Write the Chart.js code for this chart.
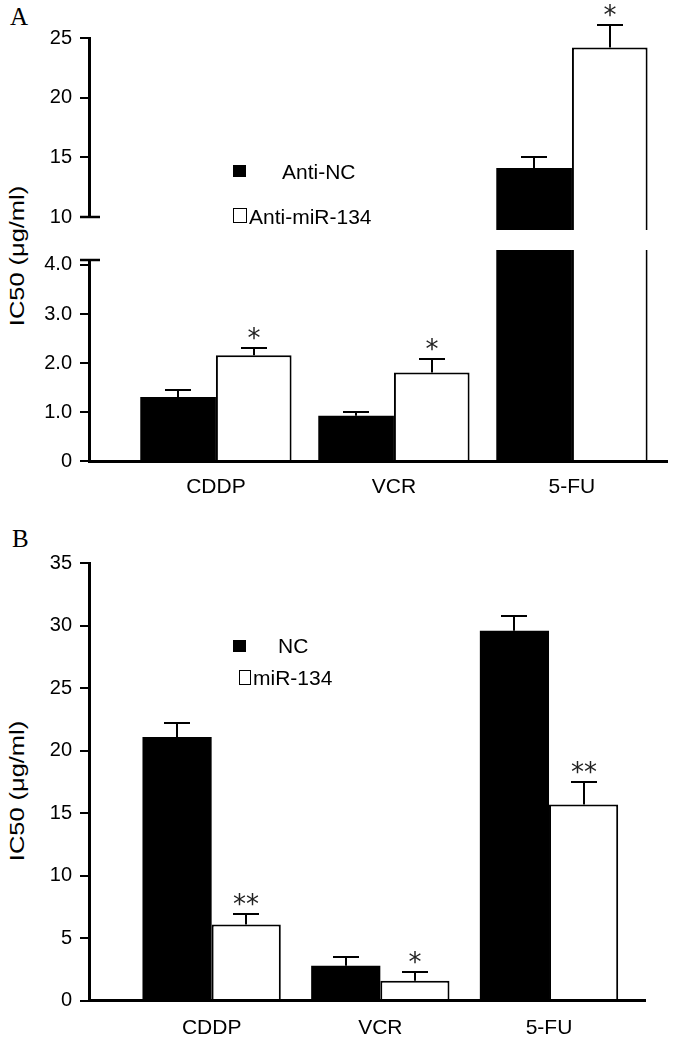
<!DOCTYPE html>
<html>
<head>
<meta charset="utf-8">
<script src="https://cdn.jsdelivr.net/npm/chart.js"></script>
<style>
  body { margin: 0; background: #fff; }
  #wrap { position: relative; width: 676px; height: 1043px; overflow: hidden;
          font-family: 'Liberation Sans', Arial, sans-serif; color: #000; }
  canvas { position: absolute; left: 0; }
  .panel { position: absolute; font-family: 'Liberation Serif', 'Times New Roman', serif;
           font-size: 25px; line-height: 1; }
  .ytitle { position: absolute; font-size: 20px; line-height: 1; white-space: nowrap;
            transform: translate(-50%, -50%) rotate(-90deg) scaleX(1.27); }
  .key { position: absolute; font-size: 21px; line-height: 1; white-space: nowrap; }
  .sw { position: absolute; box-sizing: border-box; }
</style>
</head>
<body>
<div id="wrap">
  <div class="panel" style="left:10px;top:4px">A</div>
  <div class="panel" style="left:12px;top:526px">B</div>
  <div class="ytitle" style="left:17px;top:256px">IC50 (μg/ml)</div>
  <div class="ytitle" style="left:17px;top:791px">IC50 (μg/ml)</div>

  <canvas id="chartA1" width="676" height="240" style="top:0px"></canvas>
  <canvas id="chartA2" width="676" height="290" style="top:240px"></canvas>
  <canvas id="chartB" width="676" height="503" style="top:540px"></canvas>

  <!-- legends -->
  <div class="sw" style="left:233px;top:165px;width:13px;height:12px;background:#000"></div>
  <div class="key" style="left:282px;top:161px">Anti-NC</div>
  <div class="sw" style="left:233px;top:208px;width:14px;height:15px;border:1.5px solid #000"></div>
  <div class="key" style="left:249px;top:206px">Anti-miR-134</div>

  <div class="sw" style="left:233px;top:640px;width:13px;height:12px;background:#000"></div>
  <div class="key" style="left:278px;top:635px">NC</div>
  <div class="sw" style="left:239px;top:670px;width:12px;height:15px;border:1.5px solid #000"></div>
  <div class="key" style="left:253px;top:667px">miR-134</div>
</div>
<script>
Chart.defaults.font.family = "'Liberation Sans', Arial, sans-serif";
Chart.defaults.color = '#000';

const drugs = ['CDDP', 'VCR', '5-FU'];
const drugPos = [1, 2, 3];

// panel A
const antiNC = [1.31, 0.93, 14.1];
const antiNCErr = [1.46, 1.0, 15.0];
const antiMiR = [2.16, 1.81, 24.2];
const antiMiRErr = [2.31, 2.08, 26.1];
const antiMiRSig = ['*', '*', '*'];
const aUpperTicks = [10, 15, 20, 25];
const aLowerTicks = [0, 1, 2, 3, 4];

// panel B
const nc = [21.1, 2.8, 29.6];
const ncErr = [22.2, 3.5, 30.8];
const miR = [6.1, 1.6, 15.7];
const miRErr = [6.9, 2.3, 17.5];
const miRSig = ['**', '*', '**'];
const bTicks = [0, 5, 10, 15, 20, 25, 30, 35];

// whiskers (upper only) + significance stars
const errorBars = {
  id: 'errorBars',
  afterDatasetsDraw(chart) {
    const {ctx, chartArea, scales} = chart;
    ctx.save();
    ctx.strokeStyle = '#000';
    ctx.lineWidth = 2;
    chart.data.datasets.forEach((ds, i) => {
      chart.getDatasetMeta(i).data.forEach((bar, j) => {
        if (bar.y < chartArea.top - 1 || bar.y > chartArea.bottom + 1) return;
        const top = Math.round(scales.y.getPixelForValue(ds.errTop[j]));
        const x = Math.round(bar.x);
        ctx.beginPath();
        ctx.moveTo(x, bar.y);
        ctx.lineTo(x, top);
        ctx.moveTo(x - 13, top);
        ctx.lineTo(x + 13, top);
        ctx.stroke();
        if (ds.sig && ds.sig[j]) {
          ctx.fillStyle = '#222';
          ctx.font = "26px 'DejaVu Sans'";
          ctx.textAlign = 'center';
          ctx.textBaseline = 'alphabetic';
          ctx.fillText(ds.sig[j], x, top - 1);
        }
      });
    });
    ctx.restore();
  }
};

// little cross caps where the A axis is broken
const breakCap = {
  id: 'breakCap',
  afterDraw(chart, args, opts) {
    if (!opts.edge) return;
    const {ctx, chartArea} = chart;
    const y = opts.edge === 'top' ? chartArea.top : chartArea.bottom;
    ctx.save();
    ctx.strokeStyle = '#000';
    ctx.lineWidth = 2.5;
    ctx.beginPath();
    ctx.moveTo(chartArea.left - 9, y);
    ctx.lineTo(chartArea.left + 11, y);
    ctx.stroke();
    ctx.restore();
  }
};

function bars(label, values, err, sig, fill, clip) {
  return {
    label: label,
    data: values.map((v, i) => ({x: drugPos[i], y: v})),
    backgroundColor: fill,
    borderColor: '#000',
    borderWidth: fill === '#000' ? 0 : 2,
    base: 0,
    clip: clip,
    errTop: err,
    sig: sig
  };
}

function yScale(min, max, ticks, fmt) {
  return {
    min: min, max: max, beginAtZero: false,
    afterBuildTicks: s => { s.ticks = ticks.map(v => ({value: v})); },
    afterFit: s => { s.width = 89; },
    border: {display: true, color: '#000', width: 3},
    grid: {drawOnChartArea: false, drawTicks: true, tickLength: 9, color: '#000', lineWidth: 2},
    ticks: {padding: 8, font: {size: 20}, color: '#000', callback: fmt || (v => String(v))}
  };
}

function xScale(min, max, show, height, pad) {
  return {
    type: 'linear', min: min, max: max, offset: false, display: show, bounds: 'data',
    afterBuildTicks: s => { s.ticks = drugPos.map(v => ({value: v})); },
    afterFit: s => { s.height = height; },
    border: {display: true, color: '#000', width: 3, z: 1},
    grid: {display: true, offset: false, drawOnChartArea: false, drawTicks: false},
    ticks: {padding: pad, font: {size: 21}, color: '#000', maxRotation: 0, autoSkip: false,
            callback: v => drugs[drugPos.indexOf(v)]}
  };
}

function baseOptions(padding, catPct, x, y, edge) {
  return {
    responsive: false,
    animation: false,
    devicePixelRatio: 1,
    layout: {padding: padding},
    datasets: {bar: {barPercentage: 1, categoryPercentage: catPct}},
    plugins: {legend: {display: false}, tooltip: {enabled: false}, breakCap: {edge: edge}},
    scales: {x: x, y: y}
  };
}

// A, upper part of the broken axis
const clipUp = {left: 0, top: 0, right: 0, bottom: 13};
new Chart(document.getElementById('chartA1'), {
  type: 'bar',
  data: {datasets: [
    bars('Anti-NC', antiNC, antiNCErr, null, '#000', clipUp),
    bars('Anti-miR-134', antiMiR, antiMiRErr, antiMiRSig, '#fff', clipUp)
  ]},
  options: baseOptions({top: 38, right: 9, bottom: 23, left: 0}, 0.85,
    xScale(0.287, 3.534, false, 0, 0),
    yScale(10, 25, aUpperTicks), 'bottom'),
  plugins: [errorBars, breakCap]
});

// A, lower part
const clipLow = {left: 0, top: 10, right: 0, bottom: 0};
new Chart(document.getElementById('chartA2'), {
  type: 'bar',
  data: {datasets: [
    bars('Anti-NC', antiNC, antiNCErr, null, '#000', clipLow),
    bars('Anti-miR-134', antiMiR, antiMiRErr, antiMiRSig, '#fff', clipLow)
  ]},
  options: baseOptions({top: 16, right: 9, bottom: 0, left: 0}, 0.85,
    xScale(0.287, 3.534, true, 68.7, 13),
    yScale(0, 4.1, aLowerTicks, v => v === 0 ? '0' : v.toFixed(1)), 'top'),
  plugins: [errorBars, breakCap]
});

// B
new Chart(document.getElementById('chartB'), {
  type: 'bar',
  data: {datasets: [
    bars('NC', nc, ncErr, null, '#000', 0),
    bars('miR-134', miR, miRErr, miRSig, '#fff', 0)
  ]},
  options: baseOptions({top: 23.3, right: 31, bottom: 0, left: 0}, 0.82,
    xScale(0.273, 3.569, true, 42.3, 15),
    yScale(0, 35, bTicks), null),
  plugins: [errorBars, breakCap]
});
</script>
</body>
</html>
